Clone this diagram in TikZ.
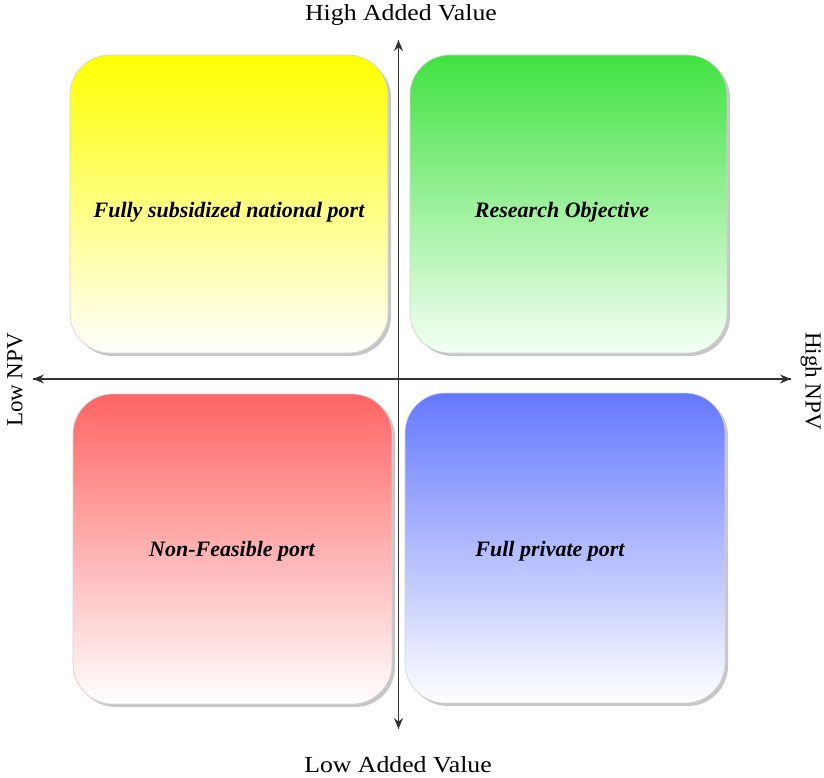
\documentclass[tikz,border=0pt]{standalone}
\usepackage{fontspec}
\setmainfont{Liberation Serif}
\usetikzlibrary{shadows,arrows.meta}
\definecolor{yel}{RGB}{255,255,0}
\definecolor{grn}{RGB}{64,226,64}
\definecolor{redc}{RGB}{255,100,100}
\definecolor{blu}{RGB}{100,120,255}
\tikzset{
  quad/.style={draw=gray!35, line width=0.6pt, rounded corners=40pt, inner sep=0pt,
    drop shadow={shadow xshift=3pt, shadow yshift=-3pt, fill=gray!55, opacity=0.8}},
  qtext/.style={font=\fontsize{22}{24}\selectfont\bfseries\itshape, text=black},
  axlabel/.style={font=\fontsize{23}{25}\selectfont, text=black},
  axis/.style={line width=1.1pt, black!80, -{Stealth[length=11pt,width=9pt]}}
}
\begin{document}
\begin{tikzpicture}[x=1pt,y=-1pt]
\useasboundingbox (0,0) rectangle (824,778);
% quadrants
\node[quad, top color=yel, bottom color=white, minimum width=318pt, minimum height=298pt] (yq) at (229,204) {};
\node[quad, top color=grn, bottom color=green!4, minimum width=317pt, minimum height=298pt] (gq) at (568.5,204) {};
\node[quad, top color=redc, bottom color=white, minimum width=319pt, minimum height=310pt] (rq) at (232.5,549) {};
\node[quad, top color=blu, bottom color=white, minimum width=320pt, minimum height=310pt] (bq) at (565,548) {};
% texts
\node[qtext] (yt) at (229,212) {Fully subsidized national port};
\node[qtext] (gt) at (562,212) {Research Objective};
\node[qtext] (rt) at (232,551) {Non-Feasible port};
\node[qtext] (bt) at (550,551) {Full private port};
% axes
\coordinate (top) at (398.5,40);
\coordinate (bot) at (398.5,729);
\coordinate (lft) at (33,379);
\coordinate (rgt) at (791,379);
\draw[axis] (bot) -- (top);
\draw[axis] (top) -- (bot);
\draw[axis] (rgt) -- (lft);
\draw[axis] (lft) -- (rgt);
% axis labels
\node[axlabel, xscale=1.12] (hav) at (401,15) {High Added Value};
\node[axlabel, xscale=1.12] (lav) at (398,765) {Low Added Value};
\node[axlabel, rotate=90] (lnpv) at (15,380) {Low NPV};
\node[axlabel, rotate=-90] (hnpv) at (811,381) {High NPV};
\end{tikzpicture}
\end{document}
